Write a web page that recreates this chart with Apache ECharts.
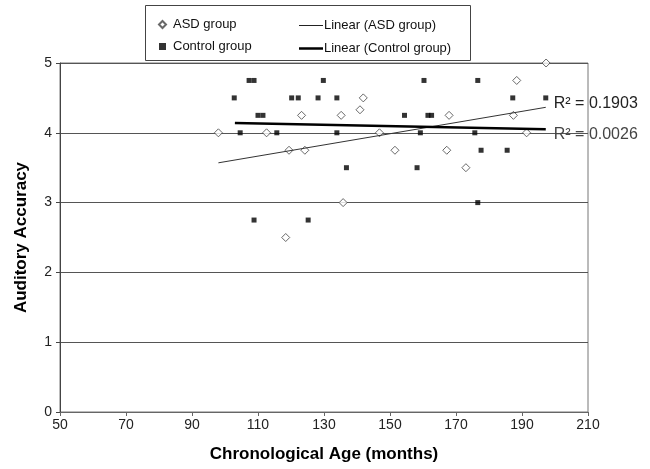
<!DOCTYPE html>
<html>
<head>
<meta charset="utf-8">
<style>
    html, body { margin: 0; padding: 0; background: #fff; }
    #chart { width: 650px; height: 469px; }
</style>
</head>
<body>
<div id="chart"></div>
<script src="https://cdn.jsdelivr.net/npm/echarts@6/dist/echarts.min.js"></script>
<script>
// ASD group: [age in months, auditory accuracy]
const asdPoints = [
    [98, 4], [112.6, 4], [118.4, 2.5], [119.4, 3.75], [123.2, 4.25],
    [124.2, 3.75], [135.2, 4.25], [135.8, 3], [140.9, 4.33], [141.9, 4.5],
    [146.8, 4], [151.5, 3.75], [167.2, 3.75], [167.9, 4.25], [173, 3.5],
    [187.4, 4.25], [188.4, 4.75], [191.4, 4], [197.3, 5]
];
// Control group
const controlPoints = [
    [102.8, 4.5], [104.6, 4], [107.3, 4.75], [108.8, 4.75], [108.8, 2.75],
    [110, 4.25], [111.5, 4.25], [115.7, 4], [120.2, 4.5], [122.2, 4.5],
    [125.2, 2.75], [128.2, 4.5], [129.8, 4.75], [133.9, 4.5], [133.9, 4],
    [136.8, 3.5], [154.4, 4.25], [158.2, 3.5], [159.2, 4], [160.3, 4.75],
    [161.5, 4.25], [162.6, 4.25], [175.7, 4], [176.6, 4.75], [176.6, 3],
    [177.6, 3.75], [185.5, 3.75], [187.2, 4.5], [197.2, 4.5]
];
// trend line end points
const asdTrend = [[98, 3.57], [197.2, 4.365]];
const controlTrend = [[103, 4.14], [197.2, 4.05]];
const r2Labels = ['R\u00b2 = 0.1903', 'R\u00b2 = 0.0026'];

const font = 'Liberation Sans, Arial, sans-serif';
const legendText = { fontSize: 13, color: '#111', fontFamily: font };

let myChart = echarts.init(document.getElementById('chart'));
let option = {
    backgroundColor: '#fff',
    animation: false,
    textStyle: { fontFamily: font },
    grid: {
        left: 60, right: 62, top: 63, bottom: 57,
        show: true, borderColor: '#777', borderWidth: 1
    },
    graphic: [{
        type: 'rect',
        shape: { x: 145.5, y: 5.5, width: 325, height: 55 },
        style: { fill: '#fff', stroke: '#444', lineWidth: 1 },
        z: 0
    }],
    legend: [{
        orient: 'vertical',
        left: 153, top: 13,
        itemWidth: 7, itemHeight: 7,
        itemGap: 9,
        textStyle: Object.assign({ padding: [0, 0, 0, 2] }, legendText),
        data: [
            { name: 'ASD group', icon: 'diamond' },
            { name: 'Control group', icon: 'rect' }
        ]
    }, {
        left: 294, top: 14,
        itemWidth: 24, itemHeight: 1,
        icon: 'rect',
        textStyle: Object.assign({ padding: [0, 0, 0, -4] }, legendText),
        data: ['Linear (ASD group)']
    }, {
        left: 294, top: 37,
        itemWidth: 24, itemHeight: 2.5,
        icon: 'rect',
        textStyle: Object.assign({ padding: [0, 0, 0, -4] }, legendText),
        data: ['Linear (Control group)']
    }],
    xAxis: {
        type: 'value',
        min: 50, max: 210, interval: 20,
        name: 'Chronological Age (months)',
        nameLocation: 'middle',
        nameGap: 34,
        nameTextStyle: { fontSize: 17, fontWeight: 'bold', color: '#000', fontFamily: font },
        axisLine: { show: true, lineStyle: { color: '#666', width: 1 } },
        axisTick: { show: true, length: 4, lineStyle: { color: '#666' } },
        axisLabel: { fontSize: 14, color: '#222', margin: 6 },
        splitLine: { show: false }
    },
    yAxis: {
        type: 'value',
        min: 0, max: 5, interval: 1,
        name: 'Auditory Accuracy',
        nameLocation: 'middle',
        nameGap: 30,
        nameTextStyle: { fontSize: 17, fontWeight: 'bold', color: '#000', fontFamily: font },
        axisLine: { show: true, lineStyle: { color: '#444', width: 1 } },
        axisTick: { show: true, length: 4, lineStyle: { color: '#444' } },
        axisLabel: { fontSize: 14, color: '#222', margin: 8 },
        splitLine: { show: true, lineStyle: { color: '#555', width: 1.2 } }
    },
    series: [{
        name: 'ASD group',
        type: 'scatter',
        symbol: 'diamond',
        symbolSize: 8,
        itemStyle: { color: '#fff', borderColor: '#444', borderWidth: 1 },
        data: asdPoints,
        z: 4
    }, {
        name: 'Control group',
        type: 'scatter',
        symbol: 'rect',
        symbolSize: 5,
        itemStyle: { color: '#000' },
        data: controlPoints,
        z: 3
    }, {
        name: 'Linear (ASD group)',
        type: 'line',
        showSymbol: false,
        symbol: 'none',
        lineStyle: { color: '#333', width: 1 },
        itemStyle: { color: '#222' },
        data: asdTrend,
        endLabel: {
            show: true, formatter: r2Labels[0],
            fontSize: 16, color: '#222', fontFamily: font,
            offset: [0, -4]
        },
        z: 5
    }, {
        name: 'Linear (Control group)',
        type: 'line',
        showSymbol: false,
        symbol: 'none',
        lineStyle: { color: '#000', width: 2.5 },
        itemStyle: { color: '#000' },
        data: controlTrend,
        endLabel: {
            show: true, formatter: r2Labels[1],
            fontSize: 16, color: '#444', fontFamily: font,
            offset: [0, 5]
        },
        z: 5
    }]
};
myChart.setOption(option);
</script>
</body>
</html>
